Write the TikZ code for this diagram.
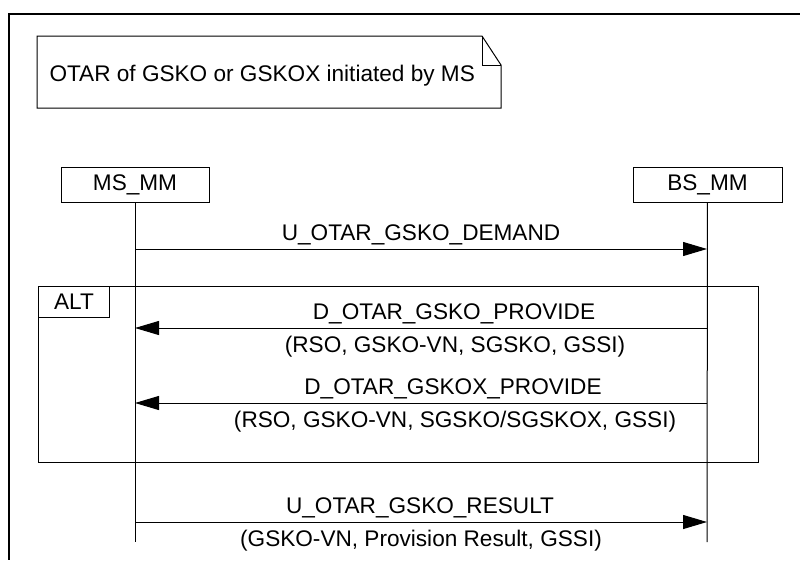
\documentclass[tikz,border=0pt]{standalone}
\usepackage{fontspec}
\setmainfont{Liberation Sans}
\usetikzlibrary{arrows.meta}

\begin{document}
\begin{tikzpicture}[x=1pt, y=-1pt, line width=1pt,
    every node/.style={font=\fontsize{22.6}{27}\selectfont, inner sep=0pt},
    entity/.style={draw, minimum height=35pt},
    msg/.style={-{Triangle[length=24pt,width=14pt]}},
    msglabel/.style={anchor=base}]
    \def\lifeEnd{542}
    \def\msX{135}
    \def\bsX{707}

    \definecolor{lineColour}{HTML}{000000}

    % Fix the page size
    \useasboundingbox (0,0) rectangle (800,560);

    % Draw outer frame (runs off the right and bottom edges)
    \draw[lineColour, line width=1.3pt] (800,14) -- (9,14) -- (9,560);

    % Draw note with folded corner
    \draw[lineColour] (37,36) -- (482,36) -- (501,65) -- (501,108) -- (37,108) -- cycle;
    \draw[lineColour] (482,36) -- (482,65) -- (501,65);
    \node[anchor=west] (note) at (49,76) {OTAR of GSKO or GSKOX initiated by MS};

    % Lifeline heads
    \node[entity, minimum width=148pt] (ms) at (\msX,184.5) {MS\_MM};
    \node[entity, minimum width=149pt] (bs) at (707.5,184.5) {BS\_MM};

    % Lifelines
    \coordinate (msEnd) at (\msX,\lifeEnd);
    \coordinate (bsEnd) at (\bsX,\lifeEnd);
    \draw[lineColour] (ms) -- (msEnd);
    \draw[lineColour] (bs) -- (bsEnd);

    % Message points on both lifelines
    \foreach \y/\n in {249/1, 328/2, 403/3, 522/4} {
        \coordinate (ms\n) at (\msX,\y);
        \coordinate (bs\n) at (\bsX,\y);
    }

    % ALT fragment
    \draw[lineColour] (38,286) rectangle (758,462);
    \node[draw, anchor=north west, minimum width=71pt, minimum height=31pt] (alt) at (38,286) {ALT};

    % Messages
    \draw[msg] (ms1) -- (bs1);
    \node[msglabel] (demand) at (421,240) {U\_OTAR\_GSKO\_DEMAND};

    \draw[msg] (bs2) -- (ms2);
    \node[msglabel] (provide) at (454,319) {D\_OTAR\_GSKO\_PROVIDE};
    \node[msglabel] (provideArgs) at (455,352) {(RSO, GSKO-VN, SGSKO, GSSI)};

    \draw[msg] (bs3) -- (ms3);
    \node[msglabel] (provideX) at (453,394) {D\_OTAR\_GSKOX\_PROVIDE};
    \node[msglabel] (provideXArgs) at (455,427) {(RSO, GSKO-VN, SGSKO/SGSKOX, GSSI)};

    \draw[msg] (ms4) -- (bs4);
    \node[msglabel] (result) at (420,513) {U\_OTAR\_GSKO\_RESULT};
    \node[msglabel] (resultArgs) at (421,546) {(GSKO-VN, Provision Result, GSSI)};

\end{tikzpicture}
\end{document}
